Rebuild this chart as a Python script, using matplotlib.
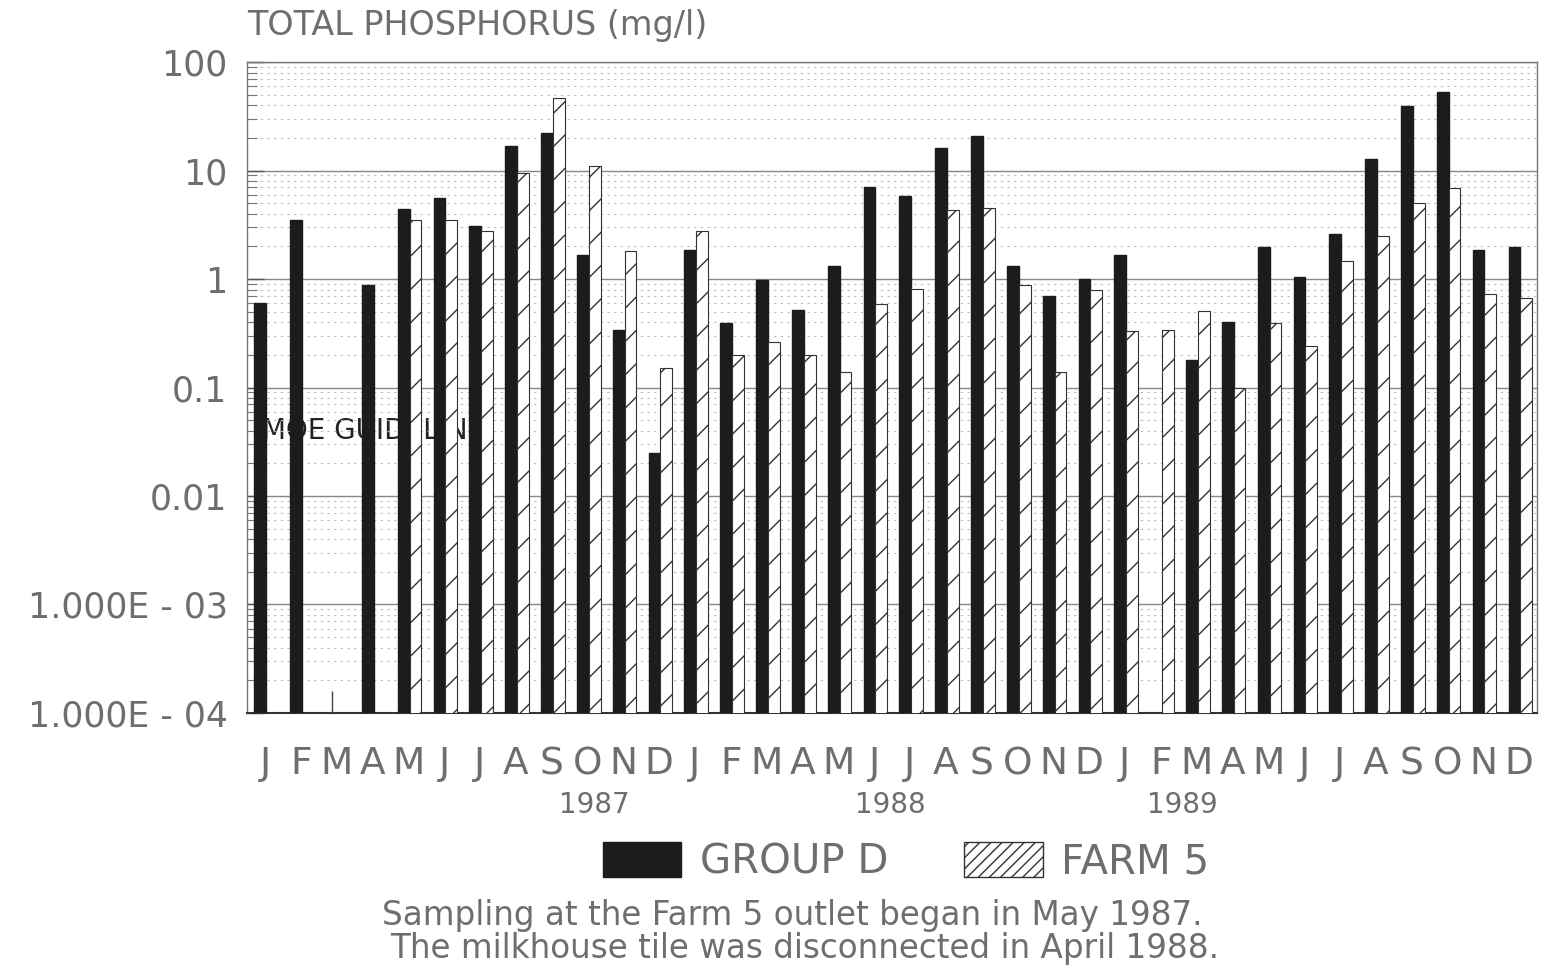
import numpy as np
from matplotlib import pyplot as plt
from matplotlib.patches import Patch
from matplotlib.ticker import LogLocator, NullFormatter

# monthly samples, Jan 1987 .. Dec 1989 (mg/l), nan = no sample
months = list("JFMAMJJASOND") * 3
years = ["1987", "1988", "1989"]
year_pos = [9.7, 17.95, 26.1]

group_d = [0.6, 3.5, np.nan, 0.88, 4.4, 5.6, 3.1, 17, 22, 1.66, 0.34, 0.025,
           1.85, 0.39, 0.98, 0.52, 1.32, 7.0, 5.8, 16, 21, 1.32, 0.70, 1.0,
           1.66, np.nan, 0.18, 0.40, 1.97, 1.04, 2.6, 12.7, 39, 53, 1.85, 1.97]
farm_5 = [np.nan, np.nan, np.nan, np.nan, 3.5, 3.5, 2.8, 9.5, 47, 11, 1.8, 0.15,
          2.8, 0.2, 0.26, 0.2, 0.14, 0.59, 0.81, 4.3, 4.5, 0.88, 0.14, 0.79,
          0.33, 0.34, 0.51, 0.10, 0.39, 0.24, 1.47, 2.5, 5.0, 6.9, 0.73, 0.67]
# trace reading in March 1987 (just a tick above the axis floor)
trace_month = [2]
trace_val = [1.6e-4]

ytick_vals = [1e-4, 1e-3, 1e-2, 0.1, 1, 10, 100]
ytick_text = ["1.000E - 04", "1.000E - 03", "0.01", "0.1", "1", "10", "100"]

txt = '#6e6e6e'
plt.rcParams['hatch.linewidth'] = 1.0
plt.rcParams['font.family'] = ['DejaVu Sans']

fig = plt.figure(figsize=(15.41, 9.74), dpi=100)
ax = fig.add_axes([0.1603, 0.268, 0.8371, 0.6683])
ax.set_yscale('log')

x = np.arange(len(months))
w = 0.33
ax.bar(x + 0.37, group_d, w, color='#1c1c1c', edgecolor='#1c1c1c', zorder=3)
ax.bar(x + 0.70, farm_5, w, color='white', edgecolor='#333333', hatch='/',
       linewidth=0.8, zorder=3)
ax.vlines(np.array(trace_month) + 0.37, 1e-4, trace_val, color='#444444', lw=1, zorder=3)

ax.set_xlim(0, 36)
ax.set_ylim(1e-4, 100)

ax.set_yticks(ytick_vals)
ax.set_yticklabels(ytick_text)
ax.yaxis.set_minor_locator(LogLocator(base=10, subs=np.arange(2, 10)))
ax.yaxis.set_minor_formatter(NullFormatter())
ax.tick_params(axis='y', which='major', direction='in', length=12, width=1,
               labelsize=25, labelcolor=txt, color='#555555', pad=14)
ax.tick_params(axis='y', which='minor', direction='in', length=7, width=0.8,
               color='#777777')

ax.set_xticks(x + 0.5)
ax.set_xticklabels(months)
ax.tick_params(axis='x', length=0, labelsize=27, labelcolor=txt, pad=24)

ax.grid(axis='y', which='major', color='#888888', lw=1.0, zorder=0)
ax.grid(axis='y', which='minor', color='#bbbbbb', lw=0.8, ls=(0, (2, 4)), zorder=0)
for s in ax.spines.values():
    s.set_color('#777777')
    s.set_linewidth(1.0)
ax.spines['bottom'].set_color('#333333')
ax.spines['bottom'].set_linewidth(1.5)

ax.text(0.42, 0.04, "MOE GUIDELINE", fontsize=20, color='#222222',
        va='center', ha='left', zorder=1)

for yr, xp in zip(years, year_pos):
    ax.text(xp, -0.141, yr, transform=ax.get_xaxis_transform(), ha='center',
            va='center', fontsize=20, color=txt)

fig.text(0.1603, 0.974, "TOTAL PHOSPHORUS (mg/l)", fontsize=24, color=txt,
         ha='left', va='center')

handles = [Patch(facecolor='#1c1c1c', edgecolor='#1c1c1c', label='GROUP D'),
           Patch(facecolor='white', edgecolor='#333333', hatch='///', label='FARM 5')]
fig.legend(handles=handles, loc='center', bbox_to_anchor=(0.588, 0.115), ncol=2,
           frameon=False, fontsize=29, handlelength=1.95, handleheight=0.95,
           columnspacing=1.9, handletextpad=0.45, labelcolor=txt)

fig.text(0.514, 0.060, "Sampling at the Farm 5 outlet began in May 1987.",
         fontsize=23.5, color=txt, ha='center', va='center')
fig.text(0.522, 0.026, "The milkhouse tile was disconnected in April 1988.",
         fontsize=23.5, color=txt, ha='center', va='center')

fig.savefig("out.png", dpi=100)
